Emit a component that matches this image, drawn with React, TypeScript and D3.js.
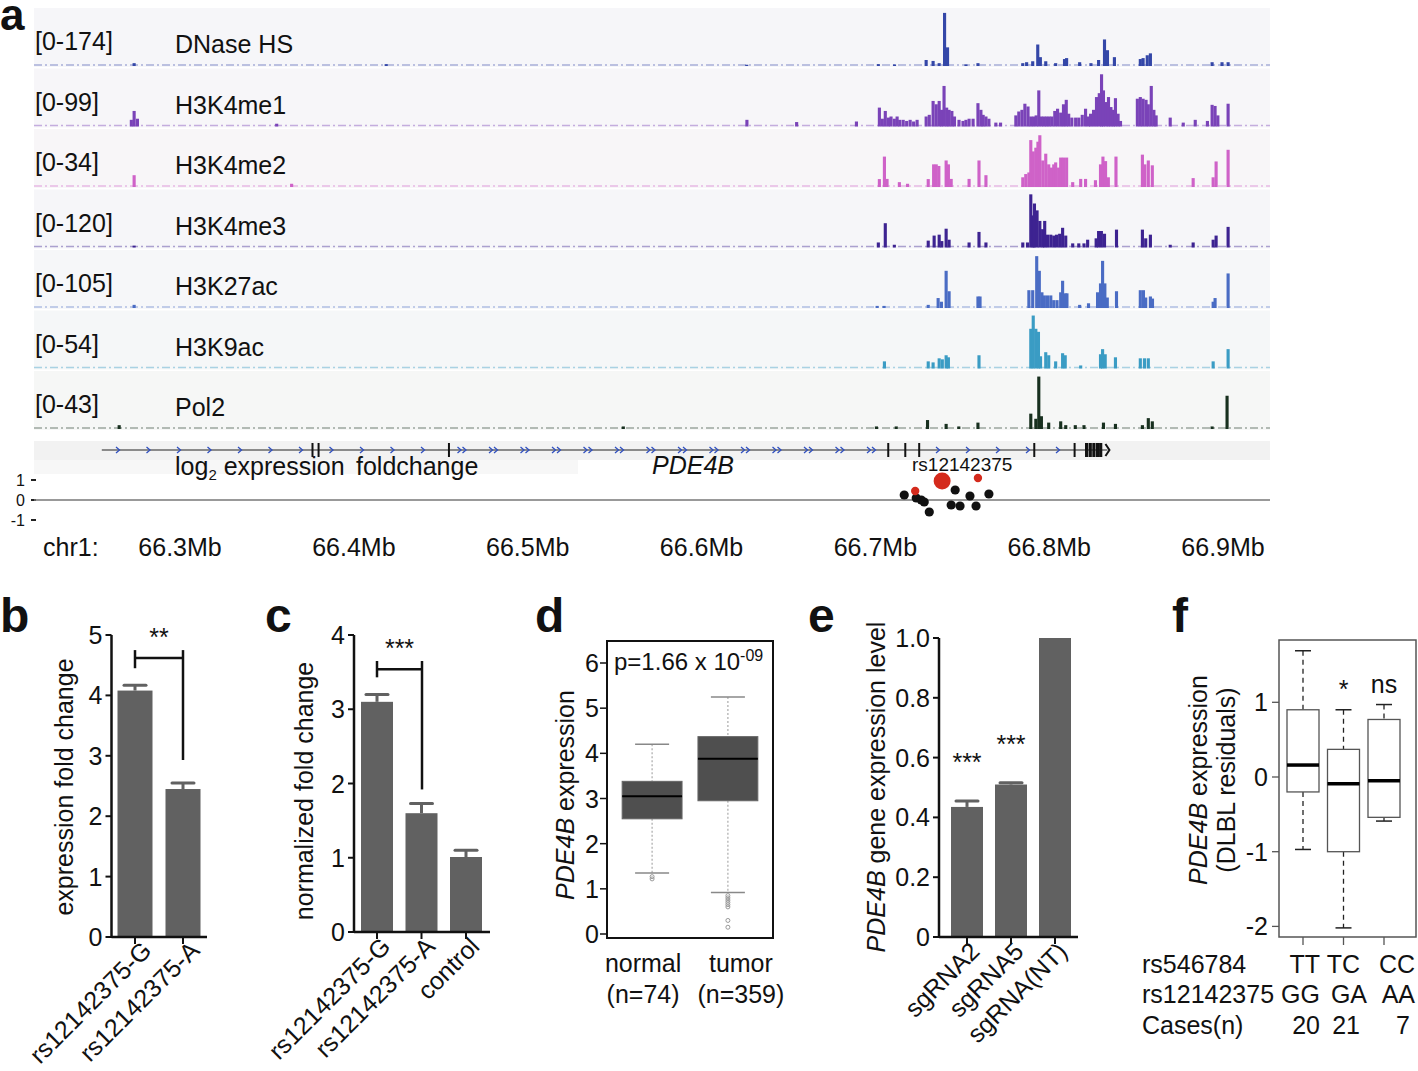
import React from "react";
import * as d3 from "d3";

const FONT = "'Liberation Sans', Arial, Helvetica, sans-serif";
const FS = 25;

// ---------- panel a: signal tracks (position kb on chr1, value in track units)
const dnasePeaks: [number, number][] = [
  [66273.6, 9], [66418.6, 6], [66626, 4], [66701.7, 6], [66711, 5], [66729.2, 19], [66733.2, 16],
  [66736.7, 9], [66739.8, 168], [66741.5, 59], [66752.1, 5], [66759.0, 9], [66784.8, 9], [66787, 12],
  [66790.5, 15], [66793.4, 68], [66794.9, 28], [66798.0, 15], [66803.7, 9], [66808.8, 22], [66810.0, 25],
  [66817.5, 12], [66824, 9], [66828.4, 19], [66831.8, 84], [66833.5, 50], [66837.5, 28], [66852.4, 22],
  [66854, 25], [66856.4, 34], [66858.2, 40], [66893.7, 12], [66899.4, 12], [66902.9, 12],
];
const h3k4me1Peaks: [number, number][] = [
  [66272, 12], [66273.6, 28], [66275.5, 14], [66355.6, 5], [66626.1, 12], [66654.7, 8], [66689.1, 9],
  [66702.3, 34], [66704, 14], [66705.7, 28], [66707.5, 16], [66709, 18], [66710.9, 14], [66712.5, 18],
  [66714, 12], [66716, 12], [66718, 10], [66720, 12], [66722, 9], [66724, 12],
  [66729.2, 18], [66731, 21], [66733.2, 46], [66735, 40], [66736.7, 46], [66738, 30], [66739.5, 73],
  [66741, 34], [66742.4, 30], [66744, 28], [66745.5, 18], [66748.1, 12], [66750.4, 10], [66752.1, 12],
  [66753.9, 14], [66756.2, 14], [66759.0, 42], [66760.7, 30], [66762, 21], [66763.6, 18], [66765.3, 14],
  [66769.3, 7], [66772, 7],
  [66780.8, 20], [66782.5, 27], [66784.3, 30], [66786, 41], [66787.8, 36], [66789.4, 18], [66791, 18],
  [66792.5, 20], [66794.0, 65], [66795.5, 18], [66797, 18], [66798.5, 18], [66800, 18], [66801.5, 18],
  [66803.2, 28], [66804.8, 32], [66806.6, 25], [66808.2, 40], [66809.8, 48], [66811.2, 23], [66813, 16],
  [66815.2, 16], [66817, 16], [66819, 21], [66820.9, 32], [66822.6, 18], [66823.8, 23], [66825.5, 30],
  [66827.2, 53], [66828.8, 60], [66830.1, 94], [66831.2, 65], [66832.6, 44], [66834.1, 53], [66835.5, 35],
  [66836.9, 30], [66838.1, 51], [66839.6, 23], [66841, 10],
  [66850.7, 50], [66852.4, 53], [66854, 50], [66855.7, 48], [66857, 40], [66858.7, 73], [66860.2, 30],
  [66861.5, 20], [66869.6, 16], [66877.1, 7], [66884.0, 12], [66891, 10], [66893.7, 39], [66895.4, 37],
  [66897, 20], [66902.9, 41],
];
const h3k4me2Peaks: [number, number][] = [
  [66273.6, 7.3], [66364.2, 2], [66702.3, 4.9], [66705.2, 18.8], [66706.7, 5], [66713.8, 3], [66718.5, 2],
  [66730.4, 4.9], [66733.5, 14], [66735.0, 14], [66736.5, 13], [66740.7, 16.4], [66742, 14], [66743.6, 5],
  [66753.9, 5], [66759.6, 16.4], [66763.6, 7.3], [66784.8, 6], [66786.5, 8], [66788.3, 9], [66789.4, 29],
  [66790.8, 22], [66792.3, 24.3], [66793.5, 28], [66794.6, 32], [66796.3, 16.4], [66798, 20.6],
  [66799.7, 14], [66801.3, 12], [66802.6, 14], [66803.7, 15.2], [66805.4, 12], [66806.6, 18.2],
  [66808.2, 18.2], [66810, 18.2], [66813.5, 3], [66818.1, 5], [66820.9, 5], [66826.6, 4.2], [66829.5, 14],
  [66830.9, 18.8], [66832.4, 16], [66834, 6], [66838.4, 18.8], [66853.6, 20], [66855, 14], [66857.0, 16.4],
  [66859.3, 13.4], [66882.8, 5.5], [66894.3, 6], [66896.0, 15.8], [66902.9, 23],
];
const h3k4me3Peaks: [number, number][] = [
  [66273.6, 4], [66701.7, 11], [66705.7, 53], [66710.9, 6], [66730.4, 15], [66733.8, 26], [66736.7, 28],
  [66738.2, 14], [66740.7, 41], [66742.4, 17], [66753.9, 11], [66759.6, 34], [66763.6, 11], [66784.8, 11],
  [66787.5, 11], [66789.4, 116], [66790.8, 70], [66791.5, 96], [66793.0, 81], [66794.6, 58], [66796.2, 40],
  [66797.4, 58], [66799, 28], [66800.9, 28], [66802.6, 26], [66804.2, 28], [66806.0, 30], [66807.7, 43],
  [66809.5, 26], [66813.5, 9], [66817, 9], [66820, 9], [66822.1, 17], [66827, 20], [66828.4, 36],
  [66830, 36], [66831.8, 30], [66838.7, 39], [66853.6, 39], [66855.5, 20], [66858.2, 28], [66869.6, 6],
  [66882.8, 11], [66894.3, 17], [66896.0, 26], [66902.9, 45],
];
const h3k27acPeaks: [number, number][] = [
  [66273.6, 6], [66701, 4], [66705, 4], [66730.4, 6], [66736.1, 19], [66738, 12], [66740.7, 71],
  [66742.4, 32], [66759.0, 22], [66760.2, 22], [66788.3, 34], [66790.5, 34], [66792.8, 99], [66794.3, 71],
  [66795.8, 30], [66797.2, 24], [66799, 24], [66800.9, 24], [66802.6, 15], [66804.5, 15], [66806.6, 30],
  [66807.7, 52], [66809.2, 28], [66810.2, 28], [66817.5, 6], [66822.6, 9], [66827.8, 30], [66829.5, 47],
  [66830.7, 90], [66832.0, 47], [66833.4, 20], [66838.7, 32], [66852.4, 34], [66854.2, 34], [66855.5, 20],
  [66858.2, 22], [66859.4, 18], [66894.3, 12], [66895.4, 19], [66902.9, 66],
];
const h3k9acPeaks: [number, number][] = [
  [66705.2, 7], [66730.4, 7], [66733.2, 6], [66736.7, 10], [66738.5, 9], [66740.7, 13], [66742, 11],
  [66759.6, 13], [66789.4, 39], [66790.8, 52], [66792.3, 39], [66793.8, 36], [66795, 12], [66798.0, 16],
  [66799.7, 13], [66803.7, 7], [66807.7, 15], [66809.2, 13], [66818.1, 3], [66829.5, 14], [66830.7, 19],
  [66832.2, 14], [66838.1, 11], [66852.4, 10], [66854.8, 10], [66857, 10], [66894.3, 7], [66902.9, 19],
];
const pol2Peaks: [number, number][] = [
  [66265, 3], [66555, 2], [66700.6, 2], [66712, 2], [66730, 7], [66740.7, 4], [66748, 2], [66759, 5],
  [66789.4, 12], [66792.3, 8], [66794.0, 41], [66795.5, 10], [66799.7, 5], [66806.6, 6], [66809.5, 3],
  [66815, 3], [66820, 3], [66831.2, 5], [66838.1, 4], [66853.6, 3], [66857.0, 8.5], [66859.3, 6],
  [66893.7, 2], [66902.3, 26],
];

const trackNames = ["DNase HS", "H3K4me1", "H3K4me2", "H3K4me3", "H3K27ac", "H3K9ac", "Pol2"];
const trackMax = [174, 99, 34, 120, 105, 54, 43];
const trackPeaks = [dnasePeaks, h3k4me1Peaks, h3k4me2Peaks, h3k4me3Peaks, h3k27acPeaks, h3k9acPeaks, pol2Peaks];
const trackColors = ["#3447a8", "#7a43b8", "#cf62c8", "#3d2391", "#4a6cc4", "#3a9cc4", "#18301f"];
const trackTints = ["#f6f6f9", "#f7f6f9", "#f8f6f8", "#f6f6f9", "#f6f7f9", "#f5f7f8", "#f6f7f6"];

const genomeTicks = [66300, 66400, 66500, 66600, 66700, 66800, 66900];
const genomeTickLabels = ["66.3Mb", "66.4Mb", "66.5Mb", "66.6Mb", "66.7Mb", "66.8Mb", "66.9Mb"];

const geneStart = 66255;
const geneEnd = 66833.5;
const geneExons = [66376.2, 66379.7, 66454.7, 66707.4, 66717.2, 66725.2, 66791.4, 66814.6];
const geneLastExons = [66821.5, 66823.6, 66825.7, 66827.8, 66829.6];

const snpPos = [66716.6, 66723.5, 66726.4, 66728.1, 66731.0, 66743.6, 66745.9, 66748.7, 66754.4, 66757.9, 66765.3, 66722.9, 66759.0, 66738.4];
const snpFc = [0.25, 0.1, 0.0, -0.1, -0.6, -0.25, 0.5, -0.3, 0.2, -0.3, 0.3, 0.45, 1.1, 0.95];
const snpKind = ["n", "n", "n", "n", "n", "n", "n", "n", "n", "n", "n", "sig", "sig", "lead"];

// ---------- panel b
const bCats = ["rs12142375-G", "rs12142375-A"];
const bMeans = [4.08, 2.45];
const bErrs = [0.09, 0.1];
// ---------- panel c
const cCats = ["rs12142375-G", "rs12142375-A", "control"];
const cMeans = [3.1, 1.6, 1.01];
const cErrs = [0.1, 0.13, 0.09];
// ---------- panel d
const dGroups = ["normal", "tumor"];
const dGroupN = ["(n=74)", "(n=359)"];
const dQ1 = [2.55, 2.95];
const dMedian = [3.05, 3.88];
const dQ3 = [3.38, 4.37];
const dLow = [1.35, 0.92];
const dHigh = [4.2, 5.25];
const dOutliersNormal = [1.27, 1.22];
const dOutliersTumor = [0.85, 0.8, 0.75, 0.7, 0.65, 0.6, 0.3, 0.15];
// ---------- panel e
const eCats = ["sgRNA2", "sgRNA5", "sgRNA(NT)"];
const eMeans = [0.435, 0.51, 1.0];
const eErrs = [0.02, 0.006, 0];
const eStars = ["***", "***", ""];
// ---------- panel f
const fGeno = ["TT", "TC", "CC"];
const fGeno2 = ["GG", "GA", "AA"];
const fCases = ["20", "21", "7"];
const fQ1 = [-0.2, -1.0, -0.54];
const fMedian = [0.16, -0.09, -0.05];
const fQ3 = [0.9, 0.37, 0.77];
const fLow = [-0.97, -2.02, -0.59];
const fHigh = [1.69, 0.9, 0.97];
const fSig = ["", "*", "ns"];

function PanelA() {
  const x = d3.scaleLinear().domain([66216, 66927]).range([34, 1270]);
  const yfc = d3.scaleLinear().domain([-1, 1]).range([520, 480]);
  const arrowsSingle = d3.range(118, 440, 30.5);
  const arrowsDouble = d3.range(462, 880, 31.5);
  const arrowsTail = d3.range(938, 1060, 30);
  const chev = (cx: number, cy: number) => `M${cx - 2},${cy - 3}L${cx + 1.5},${cy}L${cx - 2},${cy + 3}`;
  return (
    <g>
      {trackNames.map((name, i) => {
        const top = 8 + i * 60.5;
        const base = top + 58;
        const y = d3.scaleLinear().domain([0, trackMax[i]]).range([base, base - 55]);
        return (
          <g key={name}>
            <rect x={34} y={top} width={1236} height={59} fill={trackTints[i]} />
            <line x1={34} x2={1270} y1={base - 1} y2={base - 1} stroke={trackColors[i]} strokeWidth={1.6}
              strokeDasharray="8 3 2 3" opacity={0.4} />
            {trackPeaks[i].map(([p, v], j) => (
              <rect key={j} x={x(p - 0.9)} y={y(v)} width={x(p + 0.9) - x(p - 0.9)} height={base - y(v)}
                fill={trackColors[i]} />
            ))}
            <text x={35} y={top + 42} fontSize={FS}>[0-{trackMax[i]}]</text>
            <text x={175} y={top + 45} fontSize={FS}>{name}</text>
          </g>
        );
      })}
      {/* gene track */}
      <rect x={34} y={441} width={1236} height={19} fill="#f2f2f2" />
      <rect x={34} y={460} width={544} height={14} fill="#f7f7f7" />
      <line x1={x(geneStart)} x2={x(geneEnd)} y1={450} y2={450} stroke="#222" strokeWidth={1.2} />
      {arrowsSingle.map((a) => <path key={"s" + a} d={chev(a, 450)} stroke="#3050c0" fill="none" strokeWidth={1.3} />)}
      {arrowsDouble.map((a) => (
        <g key={"d" + a}>
          <path d={chev(a - 2.5, 450)} stroke="#3050c0" fill="none" strokeWidth={1.3} />
          <path d={chev(a + 2.5, 450)} stroke="#3050c0" fill="none" strokeWidth={1.3} />
        </g>
      ))}
      {arrowsTail.map((a) => <path key={"t" + a} d={chev(a, 450)} stroke="#3050c0" fill="none" strokeWidth={1.3} />)}
      {geneExons.map((e) => <line key={e} x1={x(e)} x2={x(e)} y1={443} y2={457} stroke="#111" strokeWidth={2} />)}
      {geneLastExons.map((e) => <rect key={e} x={x(e) - 1.6} y={443} width={3.2} height={14} fill="#111" />)}
      <path d={`M${x(geneEnd) - 2},444L${x(geneEnd) + 2},450L${x(geneEnd) - 2},456`} stroke="#111" fill="none" strokeWidth={2} />
      <text x={175} y={475} fontSize={FS}>log<tspan fontSize={15} dy={5}>2</tspan><tspan dy={-5}> expression</tspan></text>
      <text x={356} y={475} fontSize={FS}>foldchange</text>
      <text x={652} y={474} fontSize={FS} fontStyle="italic">PDE4B</text>
      <text x={912} y={471} fontSize={19}>rs12142375</text>
      {/* log2 fold change */}
      {[1, 0, -1].map((v) => (
        <g key={v}>
          <text x={25} y={yfc(v) + 6} fontSize={16} textAnchor="end">{v}</text>
          <line x1={31} x2={36} y1={yfc(v)} y2={yfc(v)} stroke="#222" strokeWidth={2} />
        </g>
      ))}
      <line x1={34} x2={1270} y1={yfc(0)} y2={yfc(0)} stroke="#777" strokeWidth={1.5} />
      {snpPos.map((p, i) => {
        const k = snpKind[i];
        return (
          <circle key={i} cx={x(p)} cy={yfc(snpFc[i])} r={k === "lead" ? 8.5 : k === "sig" ? 4.2 : 4.6}
            fill={k === "n" ? "#111" : "#d42a1c"} />
        );
      })}
      {/* genome axis */}
      <text x={43} y={556} fontSize={FS}>chr1:</text>
      {genomeTicks.map((t, i) => (
        <text key={t} x={x(t)} y={556} fontSize={FS} textAnchor="middle">{genomeTickLabels[i]}</text>
      ))}
      <text x={0} y={30} fontSize={44} fontWeight="bold">a</text>
    </g>
  );
}

type BarProps = {
  cats: string[];
  means: number[];
  errs: number[];
  axisX: number;
  axisEnd: number;
  c0: number;
  c1: number;
  barW: number;
  yMax: number;
  yBottom: number;
  yTop: number;
  ticks: number[];
  fmt: (v: number) => string;
  labelX: number;
  labelY: number;
  label: React.ReactNode;
  labDx: number;
  labDy: number;
};

function BarPanel(p: BarProps) {
  const x = d3.scalePoint<string>().domain(p.cats).range([p.c0, p.c1]);
  const y = d3.scaleLinear().domain([0, p.yMax]).range([p.yBottom, p.yTop]);
  return (
    <g>
      {p.cats.map((c, i) => {
        const cx = x(c)!;
        return (
          <g key={c}>
            <rect x={cx - p.barW / 2} y={y(p.means[i])} width={p.barW} height={p.yBottom - y(p.means[i])} fill="#616161" />
            {p.errs[i] > 0 && (
              <g stroke="#616161" strokeWidth={3}>
                <line x1={cx} x2={cx} y1={y(p.means[i])} y2={y(p.means[i] + p.errs[i])} />
                <line x1={cx - 11} x2={cx + 11} y1={y(p.means[i] + p.errs[i])} y2={y(p.means[i] + p.errs[i])} strokeLinecap="round" />
              </g>
            )}
            <line x1={cx} x2={cx} y1={p.yBottom} y2={p.yBottom + 7} stroke="#111" strokeWidth={2} />
            <text transform={`translate(${cx + p.labDx},${p.yBottom + p.labDy}) rotate(-45)`} textAnchor="end" fontSize={FS}>{c}</text>
          </g>
        );
      })}
      <line x1={p.axisX} x2={p.axisX} y1={p.yTop} y2={p.yBottom + 1} stroke="#111" strokeWidth={2.5} />
      <line x1={p.axisX} x2={p.axisEnd} y1={p.yBottom} y2={p.yBottom} stroke="#111" strokeWidth={2.5} />
      {p.ticks.map((t) => (
        <g key={t}>
          <line x1={p.axisX - 6} x2={p.axisX} y1={y(t)} y2={y(t)} stroke="#111" strokeWidth={2} />
          <text x={p.axisX - 9} y={y(t) + 9} textAnchor="end" fontSize={FS}>{p.fmt(t)}</text>
        </g>
      ))}
      <text transform={`translate(${p.labelX},${p.labelY}) rotate(-90)`} textAnchor="middle" fontSize={FS}>{p.label}</text>
    </g>
  );
}

function Bracket({ x1, x2, yb, yTopL, yBotL, yBotR, stars }: { x1: number; x2: number; yb: number; yTopL: number; yBotL: number; yBotR: number; stars: string }) {
  return (
    <g stroke="#111" strokeWidth={2.5} fill="none">
      <line x1={x1} x2={x2} y1={yb} y2={yb} />
      <line x1={x1} x2={x1} y1={yTopL} y2={yBotL} />
      <line x1={x2} x2={x2} y1={yTopL} y2={yBotR} />
      <text x={(x1 + x2) / 2} y={yTopL - 4} textAnchor="middle" fontSize={FS} stroke="none" fill="#111">{stars}</text>
    </g>
  );
}

function PanelB() {
  const y = d3.scaleLinear().domain([0, 5]).range([937, 635]);
  return (
    <g>
      <text x={0} y={632} fontSize={48} fontWeight="bold">b</text>
      <BarPanel cats={bCats} means={bMeans} errs={bErrs} axisX={111.5} axisEnd={207} c0={135} c1={183} barW={35}
        yMax={5} yBottom={937} yTop={635} ticks={[0, 1, 2, 3, 4, 5]} fmt={(v) => String(v)}
        labelX={73} labelY={787} label="expression fold change" labDx={18} labDy={15} />
      <Bracket x1={135} x2={183} yb={y(4.62)} yTopL={y(4.75)} yBotL={y(4.45)} yBotR={y(2.93)} stars="**" />
    </g>
  );
}

function PanelC() {
  const y = d3.scaleLinear().domain([0, 4]).range([932, 635]);
  return (
    <g>
      <text x={265} y={632} fontSize={48} fontWeight="bold">c</text>
      <BarPanel cats={cCats} means={cMeans} errs={cErrs} axisX={354} axisEnd={490} c0={377} c1={466} barW={32}
        yMax={4} yBottom={932} yTop={635} ticks={[0, 1, 2, 3, 4]} fmt={(v) => String(v)}
        labelX={313} labelY={791} label="normalized fold change" labDx={15} labDy={16} />
      <Bracket x1={377} x2={422} yb={y(3.54)} yTopL={y(3.65)} yBotL={y(3.43)} yBotR={y(1.92)} stars="***" />
    </g>
  );
}

function PanelD() {
  const y = d3.scaleLinear().domain([0, 6]).range([934, 663]);
  const x = d3.scaleBand<string>().domain(dGroups).range([607, 773]).paddingInner(0.21).paddingOuter(0.2);
  const bw = x.bandwidth();
  const outs = [dOutliersNormal, dOutliersTumor];
  const labShift = [-9, 13];
  return (
    <g>
      <text x={535} y={632} fontSize={48} fontWeight="bold">d</text>
      {dGroups.map((g, i) => {
        const cx = x(g)! + bw / 2;
        return (
          <g key={g}>
            <line x1={cx} x2={cx} y1={y(dHigh[i])} y2={y(dQ3[i])} stroke="#aaa" strokeWidth={1.2} strokeDasharray="2 2" />
            <line x1={cx} x2={cx} y1={y(dQ1[i])} y2={y(dLow[i])} stroke="#aaa" strokeWidth={1.2} strokeDasharray="2 2" />
            <line x1={cx - 17} x2={cx + 17} y1={y(dHigh[i])} y2={y(dHigh[i])} stroke="#888" strokeWidth={1.5} />
            <line x1={cx - 17} x2={cx + 17} y1={y(dLow[i])} y2={y(dLow[i])} stroke="#888" strokeWidth={1.5} />
            <rect x={x(g)!} y={y(dQ3[i])} width={bw} height={y(dQ1[i]) - y(dQ3[i])} fill="#4f4f4f" stroke="#666" strokeWidth={1} />
            <line x1={x(g)!} x2={x(g)! + bw} y1={y(dMedian[i])} y2={y(dMedian[i])} stroke="#000" strokeWidth={2.2} />
            {outs[i].map((o, j) => (
              <circle key={j} cx={cx} cy={y(o)} r={2} fill="none" stroke="#999" strokeWidth={1} />
            ))}
            <text x={cx + labShift[i]} y={972} textAnchor="middle" fontSize={FS}>{g}</text>
            <text x={cx + labShift[i]} y={1003} textAnchor="middle" fontSize={FS}>{dGroupN[i]}</text>
          </g>
        );
      })}
      <rect x={607} y={641} width={166} height={297} fill="none" stroke="#111" strokeWidth={2} />
      {[0, 1, 2, 3, 4, 5, 6].map((t) => (
        <g key={t}>
          <line x1={600} x2={607} y1={y(t)} y2={y(t)} stroke="#111" strokeWidth={1.5} />
          <text x={599} y={y(t) + 9} textAnchor="end" fontSize={FS}>{t}</text>
        </g>
      ))}
      <text x={614} y={670} fontSize={24}>p=1.66 x 10<tspan fontSize={16} dy={-9}>-09</tspan></text>
      <text transform="translate(574,795) rotate(-90)" textAnchor="middle" fontSize={FS}>
        <tspan fontStyle="italic">PDE4B</tspan> expression
      </text>
    </g>
  );
}

function PanelE() {
  const x = d3.scalePoint<string>().domain(eCats).range([967, 1055]);
  const y = d3.scaleLinear().domain([0, 1]).range([937, 638]);
  return (
    <g>
      <text x={808} y={632} fontSize={48} fontWeight="bold">e</text>
      <BarPanel cats={eCats} means={eMeans} errs={eErrs} axisX={939} axisEnd={1078} c0={967} c1={1055} barW={32}
        yMax={1} yBottom={937} yTop={638} ticks={[0, 0.2, 0.4, 0.6, 0.8, 1.0]} fmt={(v) => (v === 0 ? "0" : v.toFixed(1))}
        labelX={885} labelY={787} label={<><tspan fontStyle="italic">PDE4B</tspan> gene expression level</>} labDx={14} labDy={16} />
      {eCats.map((c, i) => (
        <text key={c} x={x(c)!} y={y(eMeans[i] + eErrs[i]) - 30} textAnchor="middle" fontSize={FS}>{eStars[i]}</text>
      ))}
    </g>
  );
}

function PanelF() {
  const x = d3.scalePoint<string>().domain(fGeno).range([1303, 1384]);
  const y = d3.scaleLinear().domain([-2, 1]).range([926.4, 702.3]);
  const bw = 32;
  const ends = [1320, 1360, 1415];
  return (
    <g>
      <text x={1172} y={632} fontSize={48} fontWeight="bold">f</text>
      {fGeno.map((g, i) => {
        const cx = x(g)!;
        return (
          <g key={g}>
            <line x1={cx} x2={cx} y1={y(fHigh[i])} y2={y(fQ3[i])} stroke="#222" strokeWidth={1.3} strokeDasharray="5 4" />
            <line x1={cx} x2={cx} y1={y(fQ1[i])} y2={y(fLow[i])} stroke="#222" strokeWidth={1.3} strokeDasharray="5 4" />
            <line x1={cx - 8} x2={cx + 8} y1={y(fHigh[i])} y2={y(fHigh[i])} stroke="#222" strokeWidth={1.5} />
            <line x1={cx - 8} x2={cx + 8} y1={y(fLow[i])} y2={y(fLow[i])} stroke="#222" strokeWidth={1.5} />
            <rect x={cx - bw / 2} y={y(fQ3[i])} width={bw} height={y(fQ1[i]) - y(fQ3[i])} fill="#fff" stroke="#555" strokeWidth={1.3} />
            <line x1={cx - bw / 2} x2={cx + bw / 2} y1={y(fMedian[i])} y2={y(fMedian[i])} stroke="#000" strokeWidth={3.5} />
            <line x1={cx} x2={cx} y1={937} y2={945} stroke="#555" strokeWidth={1.3} />
            <text x={cx} y={y(fHigh[i]) - 12} textAnchor="middle" fontSize={FS}>{fSig[i]}</text>
            <text x={ends[i]} y={973} textAnchor="end" fontSize={FS}>{g}</text>
            <text x={ends[i] + (i === 1 ? 7 : 0)} y={1003} textAnchor="end" fontSize={FS}>{fGeno2[i]}</text>
            <text x={ends[i] - (i === 2 ? 5 : 0)} y={1034} textAnchor="end" fontSize={FS}>{fCases[i]}</text>
          </g>
        );
      })}
      <rect x={1279} y={640} width={137} height={297} fill="none" stroke="#555" strokeWidth={1.5} />
      {[1, 0, -1, -2].map((t) => (
        <g key={t}>
          <line x1={1272} x2={1279} y1={y(t)} y2={y(t)} stroke="#555" strokeWidth={1.3} />
          <text x={1268} y={y(t) + 9} textAnchor="end" fontSize={FS}>{t}</text>
        </g>
      ))}
      <text transform="translate(1207,780) rotate(-90)" textAnchor="middle" fontSize={FS}>
        <tspan fontStyle="italic">PDE4B</tspan> expression
      </text>
      <text transform="translate(1235,780) rotate(-90)" textAnchor="middle" fontSize={FS}>(DLBL residuals)</text>
      <text x={1142} y={973} fontSize={FS}>rs546784</text>
      <text x={1142} y={1003} fontSize={FS}>rs12142375</text>
      <text x={1142} y={1034} fontSize={FS}>Cases(n)</text>
    </g>
  );
}

export default function App() {
  return (
    <div style={{ position: "absolute", left: 0, top: 0 }}>
      <svg width={1418} height={1071} viewBox="0 0 1418 1071" style={{ display: "block", background: "#fff" }}
        fontFamily={FONT} fill="#111">
        <PanelA />
        <PanelB />
        <PanelC />
        <PanelD />
        <PanelE />
        <PanelF />
      </svg>
    </div>
  );
}
